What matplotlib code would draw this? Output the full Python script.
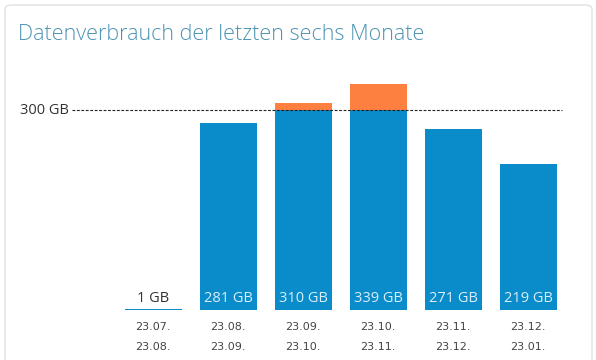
import numpy as np
import matplotlib.pyplot as plt
from matplotlib.patches import FancyBboxPatch

# data
periods_from = ['23.07.', '23.08.', '23.09.', '23.10.', '23.11.', '23.12.']
periods_to = ['23.08.', '23.09.', '23.10.', '23.11.', '23.12.', '23.01.']
usage = [1, 281, 310, 339, 271, 219]
limit = 300
value_labels = ['1 GB', '281 GB', '310 GB', '339 GB', '271 GB', '219 GB']

blue = '#0a8ccb'
orange = '#fd8040'

fig = plt.figure(figsize=(5.96, 3.6), dpi=100)
fig.patch.set_facecolor('white')

# card background
card = FancyBboxPatch((5/596, -0.1), 587/596, 1 - 5/360 + 0.1,
                      boxstyle='round,pad=0,rounding_size=0.012',
                      transform=fig.transFigure, facecolor='white',
                      edgecolor='#e2e2e2', linewidth=1.0, zorder=-5)
fig.patches.append(card)

fig.text(18/596, 1 - 34/360, 'Datenverbrauch der letzten sechs Monate',
         fontsize=15.5, color='#4d94b3', family='Open Sans', fontweight='light',
         va='center', ha='left')

ax = fig.add_axes([0, 50/360, 1, 310/360], zorder=2)
ax.patch.set_alpha(0)
ax.set_xlim(-153/75, (596 - 153)/75)
ax.set_ylim(0, 465)
ax.axis('off')

x = np.arange(len(usage))
base = [min(u, limit) for u in usage]
over = [max(u - limit, 0) for u in usage]
ax.bar(x, base, width=0.76, color=blue, linewidth=0, antialiased=False)
ax.bar(x, over, bottom=base, width=0.76, color=orange, linewidth=0)

ax.plot([(72 - 153)/75, (562 - 153)/75], [limit, limit], ls=(0, (2.5, 1.5)),
        color='#222222', lw=0.8)
ax.text((69 - 153)/75, limit, '300 GB', ha='right', va='center', fontsize=10.5,
        color='#333333', family='Open Sans')

for i, lab in enumerate(value_labels):
    c = '#333333' if usage[i] < 30 else '#d9eef9'
    ax.text(x[i], 18, lab, ha='center', va='center', fontsize=10.5, color=c,
            family='Open Sans')
    ax.text(x[i], -26, periods_from[i], ha='center', va='center', fontsize=8,
            color='#444444', clip_on=False)
    ax.text(x[i], -56, periods_to[i], ha='center', va='center', fontsize=8,
            color='#444444', clip_on=False)

fig.savefig('out.png', dpi=100, facecolor='white')
